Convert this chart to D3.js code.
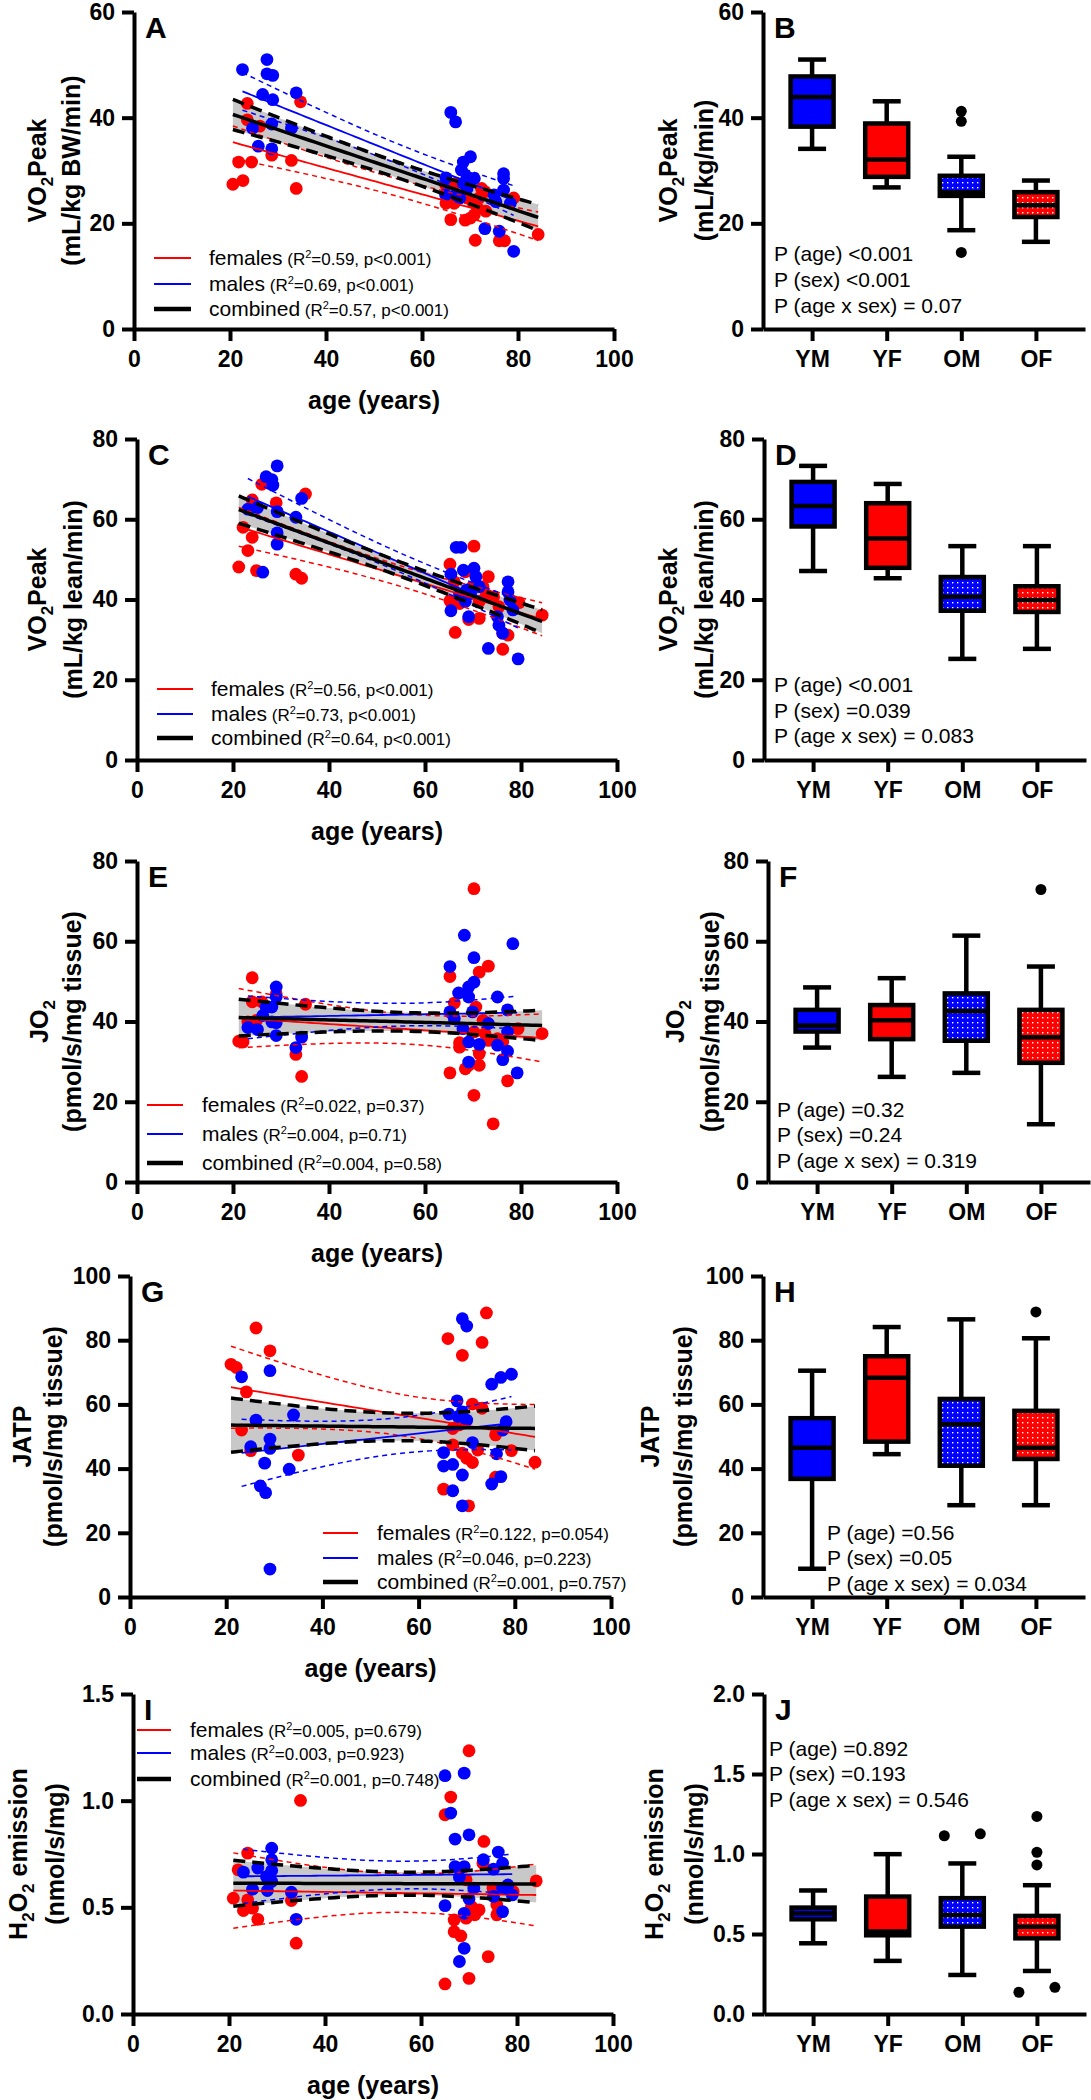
<!DOCTYPE html>
<html><head><meta charset="utf-8">
<script src="https://cdn.jsdelivr.net/npm/d3@7"></script>
<style>body{margin:0;background:#fff}svg{display:block}</style>
</head><body>
<svg id="c" width="1091" height="2100"></svg>
<script>
// ---------------- DATA ----------------
const groups = ["YM", "YF", "OM", "OF"];
const ageTicks = [0, 20, 40, 60, 80, 100];

// Panel A: VO2Peak (mL/kg BW/min) vs age  [age, value]
const A_females = [[20.6,27.4],[21.8,31.6],[22.7,28.1],[23.6,42.7],[23.6,39.6],[24.5,31.6],[26.2,38.4],[28.7,32.9],[32.8,31.9],[33.8,26.6],[34.7,43.0],
 [64.9,27.3],[65.0,23.8],[66.0,20.7],[66.7,23.8],[67.1,27.6],[69.0,20.6],[69.4,24.8],[70.1,21.0],[70.5,24.1],[70.9,21.6],[71.1,16.8],[71.6,22.9],[71.9,24.8],[72.4,26.6],[73.1,26.0],[73.3,22.3],[76.1,16.7],[77.2,16.7],[79.1,24.8],[84.2,17.9]];
const A_males = [[22.6,49.1],[24.7,38.0],[25.9,34.6],[26.8,44.4],[27.7,51.0],[27.7,48.3],[28.9,48.0],[28.9,43.4],[28.7,38.8],[28.7,34.1],[32.8,38.0],[33.8,44.7],
 [64.9,25.4],[65.0,28.6],[66.0,41.0],[67.0,39.2],[67.1,25.4],[67.9,24.8],[68.2,30.1],[68.6,31.6],[68.6,27.6],[69.4,28.8],[69.4,26.6],[70.1,32.6],[70.9,28.5],[73.1,19.0],[75.0,25.4],[75.4,24.1],[76.1,18.5],[77.0,29.4],[77.0,28.5],[77.0,26.3],[78.4,23.8],[79.1,14.7]];

// Panel C: VO2Peak (mL/kg lean/min)
const C_females = [[21.2,48.1],[22.1,58.0],[23.1,52.2],[24.0,64.8],[24.0,55.5],[24.9,47.2],[26.0,68.7],[29.0,64.1],[33.1,46.3],[34.3,45.3],[35.1,66.3],
 [65.2,48.8],[65.2,39.7],[66.1,44.4],[66.3,31.8],[67.2,39.0],[68.4,46.9],[69.1,35.0],[69.9,43.2],[70.2,53.3],[71.3,39.5],[71.3,35.3],[72.1,43.2],[72.8,41.1],[73.2,45.7],[74.3,40.7],[75.4,38.2],[76.2,31.6],[76.2,27.6],[77.3,31.1],[79.6,39.2],[84.4,36.1]];
const C_males = [[23.1,62.5],[25.1,62.9],[26.2,46.8],[26.9,70.6],[28.1,69.9],[28.3,68.5],[29.2,73.3],[29.2,61.9],[29.2,56.6],[29.2,53.8],[33.1,60.5],[34.3,65.2],
 [65.4,46.3],[65.4,37.2],[66.5,53.0],[67.2,41.1],[67.5,53.0],[68.0,47.3],[68.4,39.5],[68.7,42.4],[69.1,35.7],[69.5,41.5],[70.2,47.8],[70.6,45.7],[71.3,43.2],[73.2,27.8],[75.1,35.7],[75.4,33.6],[76.2,31.6],[77.3,44.4],[77.3,41.9],[77.7,39.9],[78.3,37.4],[79.4,25.2]];

// Panel E: JO2 (pmol/s/mg tissue)
const E_females = [[21.2,35.1],[22.1,34.9],[23.1,39.9],[24.0,50.9],[24.0,44.9],[24.9,40.3],[26.0,44.9],[29.0,46.9],[33.1,31.8],[34.3,26.3],[35.1,44.3],
 [65.2,51.2],[65.2,27.2],[66.1,44.6],[67.2,34.7],[67.2,33.6],[68.4,28.2],[69.1,29.1],[70.2,73.1],[70.2,21.6],[70.2,37.4],[70.6,43.6],[71.3,52.3],[71.3,32.0],[71.3,29.1],[72.1,40.3],[72.5,37.0],[73.2,53.8],[73.2,35.3],[74.2,14.5],[75.1,35.7],[76.2,34.9],[77.2,25.2],[79.4,38.2],[84.4,37.0]];
const E_males = [[23.1,38.5],[25.1,38.0],[26.2,41.5],[26.9,43.6],[28.1,43.6],[28.1,39.9],[29.0,48.6],[29.0,46.1],[29.0,39.7],[29.0,36.5],[33.1,33.5],[34.3,36.1],
 [65.2,53.7],[65.2,42.4],[66.1,40.7],[67.0,47.1],[67.9,38.2],[68.2,61.5],[69.1,48.6],[69.1,46.1],[69.1,34.9],[69.1,29.9],[69.9,42.4],[70.2,55.9],[70.2,49.8],[71.3,34.3],[73.2,39.5],[75.1,46.1],[75.1,34.1],[76.2,30.5],[77.2,42.9],[77.2,37.4],[77.2,32.6],[78.3,59.4],[79.2,27.2]];

// Panel G: JATP (pmol/s/mg tissue)
const G_females = [[21.0,72.5],[22.1,71.5],[23.2,52.0],[24.2,63.9],[25.1,45.6],[26.2,83.8],[29.1,76.7],[35.0,44.2],
 [65.2,33.6],[66.1,80.5],[67.1,52.5],[67.1,47.4],[68.4,53.6],[69.1,75.3],[69.1,44.8],[70.0,43.2],[70.4,28.4],[71.2,60.1],[71.2,41.9],[72.3,45.8],[73.2,79.3],[73.2,58.8],[74.1,88.5],[76.0,50.5],[76.0,37.3],[79.3,45.6],[84.2,42.0]];
const G_males = [[23.2,68.6],[25.1,46.8],[26.2,55.1],[27.1,34.6],[28.0,41.7],[28.2,32.5],[29.1,70.5],[29.1,49.2],[29.1,46.3],[29.1,8.7],[33.1,39.8],[34.0,56.7],
 [65.2,45.0],[65.2,40.8],[66.3,57.0],[67.1,41.3],[67.1,33.1],[68.0,61.1],[68.2,56.2],[69.1,86.7],[69.1,57.7],[69.1,38.0],[69.1,28.4],[70.0,84.4],[70.0,55.1],[71.2,48.1],[75.2,66.3],[75.2,35.2],[76.2,44.6],[77.1,68.4],[77.1,37.5],[77.5,52.0],[78.2,54.6],[79.3,69.4]];

// Panel I: H2O2 emission (nmol/s/mg)
const I_females = [[20.9,0.543],[21.9,0.676],[23.0,0.485],[23.9,0.754],[23.9,0.535],[24.9,0.496],[26.0,0.444],[33.0,0.532],[34.0,0.332],[34.9,1.001],
 [65.0,0.141],[65.0,0.934],[66.2,1.017],[66.9,0.441],[66.9,0.386],[68.3,0.366],[69.4,0.449],[69.4,0.629],[70.0,0.167],[70.0,1.234],[70.5,0.504],[71.2,0.465],[72.1,0.488],[72.9,0.707],[73.1,0.809],[74.0,0.269],[75.0,0.590],[75.8,0.465],[75.8,0.511],[79.2,0.574],[84.0,0.624]];
const I_males = [[23.0,0.665],[24.9,0.585],[26.0,0.684],[27.8,0.644],[28.0,0.579],[28.9,0.777],[28.9,0.723],[28.9,0.673],[28.9,0.621],[33.0,0.571],[34.0,0.444],
 [65.0,1.117],[65.0,0.508],[66.2,0.942],[67.1,0.820],[67.1,0.691],[68.0,0.641],[68.0,0.246],[69.0,1.129],[69.0,0.691],[69.0,0.472],[69.0,0.308],[70.0,0.840],[70.0,0.540],[71.0,0.590],[73.0,0.723],[75.1,0.679],[75.1,0.551],[76.1,0.759],[77.0,0.707],[77.0,0.590],[77.0,0.480],[78.1,0.605],[79.0,0.558]];

// Box plots: per group [min, q1, median, q3, max]; outliers [group, value, side]
const B_boxes = [[34.1,38.3,43.9,47.8,51.0],[26.8,28.8,32.1,38.9,43.1],[18.7,25.2,25.9,29.0,32.6],[16.5,21.2,23.4,25.9,28.1]];
const B_outliers = [["OM",41.2,0],["OM",39.3,0],["OM",14.5,0]];
const D_boxes = [[47.1,58.2,63.3,69.3,73.3],[45.3,47.9,55.2,64.0,68.8],[25.2,37.2,40.7,45.6,53.3],[27.7,36.9,39.9,43.3,53.3]];
const D_outliers = [];
const F_boxes = [[33.5,37.5,39.0,42.9,48.5],[26.2,35.6,40.3,44.1,50.8],[27.2,35.2,42.6,47.0,61.4],[14.4,29.7,36.1,42.9,53.7]];
const F_outliers = [["OF",72.9,0]];
const H_boxes = [[8.8,36.8,46.5,55.7,70.5],[44.5,48.4,68.3,75.0,84.1],[28.6,40.9,53.8,61.7,86.5],[28.6,43.0,46.5,58.0,80.6]];
const H_outliers = [["OF",88.8,0]];
const J_boxes = [[0.442,0.592,0.630,0.665,0.772],[0.332,0.492,0.515,0.734,0.999],[0.244,0.546,0.619,0.724,0.941],[0.269,0.473,0.546,0.613,0.805]];
const J_outliers = [["OM",1.114,-1],["OM",1.126,1],["OF",1.235,0],["OF",1.011,0],["OF",0.932,0],["OF",0.136,-1],["OF",0.167,1]];

// Legend statistics [R2, p]
const A_stats = [["0.59","p<0.001"],["0.69","p<0.001"],["0.57","p<0.001"]];
const C_stats = [["0.56","p<0.001"],["0.73","p<0.001"],["0.64","p<0.001"]];
const E_stats = [["0.022","p=0.37"],["0.004","p=0.71"],["0.004","p=0.58"]];
const G_stats = [["0.122","p=0.054"],["0.046","p=0.223"],["0.001","p=0.757"]];
const I_stats = [["0.005","p=0.679"],["0.003","p=0.923"],["0.001","p=0.748"]];
// ANOVA texts
const B_anova = ["P (age) <0.001","P (sex) <0.001","P (age x sex) = 0.07"];
const D_anova = ["P (age) <0.001","P (sex) =0.039","P (age x sex) = 0.083"];
const F_anova = ["P (age) =0.32","P (sex) =0.24","P (age x sex) = 0.319"];
const H_anova = ["P (age) =0.56","P (sex) =0.05","P (age x sex) = 0.034"];
const J_anova = ["P (age) =0.892","P (sex) =0.193","P (age x sex) = 0.546"];

// ---------------- DRAWING ----------------
const FONT = "'Liberation Sans', Arial, Helvetica, sans-serif";
const RED = "#ff0000", BLUE = "#0000ff";
const svg = d3.select("#c").attr("font-family", FONT);
const defs = svg.append("defs");
function mkPattern(id, color) {
  const p = defs.append("pattern").attr("id", id).attr("patternUnits", "userSpaceOnUse")
    .attr("width", 5).attr("height", 5);
  p.append("rect").attr("width", 5).attr("height", 5).attr("fill", color);
  p.append("rect").attr("x", 2).attr("y", 2).attr("width", 1.4).attr("height", 1.4).attr("fill", "#fff");
}
mkPattern("dotBlue", BLUE); mkPattern("dotRed", RED);
const boxFill = [BLUE, RED, "url(#dotBlue)", "url(#dotRed)"];

function tq(df) { const z = 1.959964;
  return z + (z**3 + z) / (4*df) + (5*z**5 + 16*z**3 + 3*z) / (96*df*df) + (3*z**7 + 19*z**5 + 17*z**3 - 15*z) / (384*df**3); }
function linfit(pts) {
  const n = pts.length, mx = d3.mean(pts, d => d[0]), my = d3.mean(pts, d => d[1]);
  let sxx = 0, sxy = 0; pts.forEach(([a, b]) => { sxx += (a-mx)**2; sxy += (a-mx)*(b-my); });
  const b = sxy / sxx, a = my - b*mx;
  let sse = 0; pts.forEach(([u, v]) => { sse += (v - (a + b*u))**2; });
  const s = Math.sqrt(sse / (n-2)), t = tq(n-2);
  const [lo, hi] = d3.extent(pts, d => d[0]);
  return d3.range(61).map(i => { const u = lo + (hi-lo)*i/60, yh = a + b*u,
    h = t*s*Math.sqrt(1/n + (u-mx)**2/sxx); return {x: u, y: yh, lo: yh-h, hi: yh+h}; });
}
function rich(t, parts) {
  let pend = 0;
  parts.forEach(([txt, size, kind]) => {
    let dy = pend; pend = 0;
    if (kind === "sup") { dy += -0.6*size; pend = 0.6*size; }
    if (kind === "sub") { dy += 0.45*size; pend = -0.45*size; }
    const ts = t.append("tspan").attr("font-size", size).text(txt);
    if (dy) ts.attr("dy", dy);
  });
}
function styleAxis(g) {
  g.attr("font-family", FONT).attr("font-size", 23).attr("font-weight", "bold");
  g.select(".domain").attr("stroke", "#000").attr("stroke-width", 4);
  g.selectAll(".tick line").attr("stroke", "#000").attr("stroke-width", 4);
  g.selectAll(".tick text").attr("fill", "#000");
}
function yTitle(cx1, cx2, cy, l1, l2) {
  const t1 = svg.append("text").attr("transform", `translate(${cx1},${cy}) rotate(-90)`)
    .attr("text-anchor", "middle").attr("dy", "0.35em").attr("font-weight", "bold").attr("font-size", 25);
  rich(t1, l1);
  svg.append("text").attr("transform", `translate(${cx2},${cy}) rotate(-90)`)
    .attr("text-anchor", "middle").attr("dy", "0.35em").attr("font-weight", "bold").attr("font-size", 25).text(l2);
}
function letter(x, y, s) {
  svg.append("text").attr("x", x).attr("y", y).attr("font-size", 30).attr("font-weight", "bold").text(s);
}

function drawScatter(L) {
  const x = d3.scaleLinear().domain([0, 100]).range([L.x0, L.x1]);
  const y = d3.scaleLinear().domain([0, L.yMax]).range([L.yB, L.yT]);
  const g = svg.append("g");
  const fa = linfit(L.f.concat(L.m)), ff = linfit(L.f), fm = linfit(L.m);
  g.append("path").datum(fa).attr("fill", "#c8c8c8")
    .attr("d", d3.area().x(d => x(d.x)).y0(d => y(d.lo)).y1(d => y(d.hi)));
  g.append("g").selectAll("circle").data(L.f).join("circle")
    .attr("cx", d => x(d[0])).attr("cy", d => y(d[1])).attr("r", 6.4).attr("fill", RED);
  g.append("g").selectAll("circle").data(L.m).join("circle")
    .attr("cx", d => x(d[0])).attr("cy", d => y(d[1])).attr("r", 6.4).attr("fill", BLUE);
  const line = k => d3.line().x(d => x(d.x)).y(d => y(d[k]));
  [[ff, RED], [fm, BLUE]].forEach(([f, c]) => {
    g.append("path").datum(f).attr("d", line("y")).attr("stroke", c).attr("stroke-width", 1.8).attr("fill", "none");
    ["lo", "hi"].forEach(k => g.append("path").datum(f).attr("d", line(k)).attr("stroke", c)
      .attr("stroke-width", 1.5).attr("stroke-dasharray", "5,4").attr("fill", "none"));
  });
  g.append("path").datum(fa).attr("d", line("y")).attr("stroke", "#000").attr("stroke-width", 3.5).attr("fill", "none");
  ["lo", "hi"].forEach(k => g.append("path").datum(fa).attr("d", line(k)).attr("stroke", "#000")
    .attr("stroke-width", 3.5).attr("stroke-dasharray", "12,7").attr("fill", "none"));

  const ya = svg.append("g").attr("transform", `translate(${L.x0},0)`)
    .call(d3.axisLeft(y).tickValues(L.yTicks).tickFormat(L.fmt).tickSize(12).tickSizeOuter(0).tickPadding(7));
  styleAxis(ya);
  const xa = svg.append("g").attr("transform", `translate(0,${L.yB})`)
    .call(d3.axisBottom(x).tickValues(ageTicks).tickSize(12).tickSizeOuter(0).tickPadding(10));
  styleAxis(xa);
  svg.append("text").attr("x", (L.x0 + L.x1)/2).attr("y", L.yB + 80).attr("text-anchor", "middle")
    .attr("font-size", 25).attr("font-weight", "bold").text("age (years)");
  yTitle(L.t1, L.t2, (L.yT + L.yB)/2, L.title1, L.title2);
  letter(L.x0 + 11, L.yT + 26, L.letter);
  // legend
  const names = ["females", "males", "combined"], cols = [RED, BLUE, "#000"], wid = [2, 2, 4.5];
  L.stats.forEach((s, i) => {
    const cy = L.leg.rows[i];
    svg.append("line").attr("x1", L.leg.lx1).attr("x2", L.leg.lx2).attr("y1", cy).attr("y2", cy)
      .attr("stroke", cols[i]).attr("stroke-width", wid[i]);
    const t = svg.append("text").attr("x", L.leg.tx).attr("y", cy + 7).attr("font-size", 21);
    rich(t, [[names[i], 21], [" (R", 17], ["2", 11, "sup"], ["=" + s[0] + ", " + s[1] + ")", 17]]);
  });
}

function drawBox(R) {
  const x = d3.scalePoint().domain(groups).range([R.ax, R.ax + 322]).padding(0.658);
  const y = d3.scaleLinear().domain([0, R.yMax]).range([R.yB, R.yT]);
  const g = svg.append("g");
  R.boxes.forEach((b, i) => {
    const cx = x(groups[i]);
    const [mn, q1, md, q3, mx] = b;
    g.append("line").attr("x1", cx).attr("x2", cx).attr("y1", y(mn)).attr("y2", y(mx)).attr("stroke", "#000").attr("stroke-width", 4.5);
    [mn, mx].forEach(v => g.append("line").attr("x1", cx - 14).attr("x2", cx + 14).attr("y1", y(v)).attr("y2", y(v))
      .attr("stroke", "#000").attr("stroke-width", 4.5));
    g.append("rect").attr("x", cx - 21.5).attr("width", 43).attr("y", y(q3)).attr("height", y(q1) - y(q3))
      .attr("fill", boxFill[i]).attr("stroke", "#000").attr("stroke-width", 4.5);
    g.append("line").attr("x1", cx - 21.5).attr("x2", cx + 21.5).attr("y1", y(md)).attr("y2", y(md))
      .attr("stroke", "#000").attr("stroke-width", 4.5);
  });
  g.selectAll(".out").data(R.outliers).join("circle")
    .attr("cx", d => x(d[0]) + d[2]*18).attr("cy", d => y(d[1])).attr("r", 5.5).attr("fill", "#000");
  const ya = svg.append("g").attr("transform", `translate(${R.ax},0)`)
    .call(d3.axisLeft(y).tickValues(R.yTicks).tickFormat(R.fmt).tickSize(12).tickSizeOuter(0).tickPadding(7));
  styleAxis(ya);
  const xa = svg.append("g").attr("transform", `translate(0,${R.yB})`)
    .call(d3.axisBottom(x).tickSize(12).tickSizeOuter(0).tickPadding(10));
  styleAxis(xa);
  yTitle(R.t1, R.t2, (R.yT + R.yB)/2, R.title1, R.title2);
  letter(R.ax + 11, R.yT + 26, R.letter);
  R.anova.forEach((s, i) => svg.append("text").attr("x", R.sx).attr("y", R.srows[i] + 7.5)
    .attr("font-size", 21).text(s));
}

const f0 = d3.format("d"), f1 = d3.format(".1f");
const vo2 = [["VO", 25], ["2", 17, "sub"], ["Peak", 25]];
const jo2 = [["JO", 25], ["2", 17, "sub"]];
const jatp = [["JATP", 25]];
const h2o2 = [["H", 25], ["2", 17, "sub"], ["O", 25], ["2", 17, "sub"], [" emission", 25]];

drawScatter({letter: "A", f: A_females, m: A_males, stats: A_stats, x0: 134, x1: 614, yT: 12, yB: 329, yMax: 60,
  yTicks: [0,20,40,60], fmt: f0, t1: 37, t2: 71, title1: vo2, title2: "(mL/kg BW/min)",
  leg: {lx1: 154, lx2: 191, tx: 209, rows: [258, 284, 309]}});
drawScatter({letter: "C", f: C_females, m: C_males, stats: C_stats, x0: 137, x1: 617, yT: 439, yB: 760, yMax: 80,
  yTicks: [0,20,40,60,80], fmt: f0, t1: 37, t2: 73, title1: vo2, title2: "(mL/kg lean/min)",
  leg: {lx1: 157, lx2: 193, tx: 211, rows: [689, 714, 738]}});
drawScatter({letter: "E", f: E_females, m: E_males, stats: E_stats, x0: 137, x1: 617, yT: 861, yB: 1182, yMax: 80,
  yTicks: [0,20,40,60,80], fmt: f0, t1: 39, t2: 72, title1: jo2, title2: "(pmol/s/mg tissue)",
  leg: {lx1: 147, lx2: 183, tx: 202, rows: [1105, 1134, 1163]}});
drawScatter({letter: "G", f: G_females, m: G_males, stats: G_stats, x0: 130, x1: 611, yT: 1276, yB: 1597, yMax: 100,
  yTicks: [0,20,40,60,80,100], fmt: f0, t1: 22, t2: 53, title1: jatp, title2: "(pmol/s/mg tissue)",
  leg: {lx1: 323, lx2: 358, tx: 377, rows: [1533, 1558, 1582]}});
drawScatter({letter: "I", f: I_females, m: I_males, stats: I_stats, x0: 133, x1: 613, yT: 1694, yB: 2014, yMax: 1.5,
  yTicks: [0,0.5,1,1.5], fmt: f1, t1: 18, t2: 55, title1: h2o2, title2: "(nmol/s/mg)",
  leg: {lx1: 137, lx2: 171, tx: 190, rows: [1730, 1753, 1779]}});

drawBox({letter: "B", boxes: B_boxes, outliers: B_outliers, anova: B_anova, ax: 763, yT: 12, yB: 329, yMax: 60,
  yTicks: [0,20,40,60], fmt: f0, t1: 668, t2: 704, title1: vo2, title2: "(mL/kg/min)", sx: 774, srows: [253, 279, 305]});
drawBox({letter: "D", boxes: D_boxes, outliers: D_outliers, anova: D_anova, ax: 764, yT: 439, yB: 760, yMax: 80,
  yTicks: [0,20,40,60,80], fmt: f0, t1: 668, t2: 704, title1: vo2, title2: "(mL/kg lean/min)", sx: 774, srows: [684, 710, 735]});
drawBox({letter: "F", boxes: F_boxes, outliers: F_outliers, anova: F_anova, ax: 768, yT: 861, yB: 1182, yMax: 80,
  yTicks: [0,20,40,60,80], fmt: f0, t1: 675, t2: 710, title1: jo2, title2: "(pmol/s/mg tissue)", sx: 777, srows: [1109, 1134, 1160]});
drawBox({letter: "H", boxes: H_boxes, outliers: H_outliers, anova: H_anova, ax: 763, yT: 1276, yB: 1597, yMax: 100,
  yTicks: [0,20,40,60,80,100], fmt: f0, t1: 650, t2: 683, title1: jatp, title2: "(pmol/s/mg tissue)", sx: 827, srows: [1532, 1557, 1583]});
drawBox({letter: "J", boxes: J_boxes, outliers: J_outliers, anova: J_anova, ax: 764, yT: 1694, yB: 2014, yMax: 2.0,
  yTicks: [0,0.5,1,1.5,2], fmt: f1, t1: 654, t2: 694, title1: h2o2, title2: "(nmol/s/mg)", sx: 769, srows: [1748, 1773, 1799]});
</script>
</body></html>
